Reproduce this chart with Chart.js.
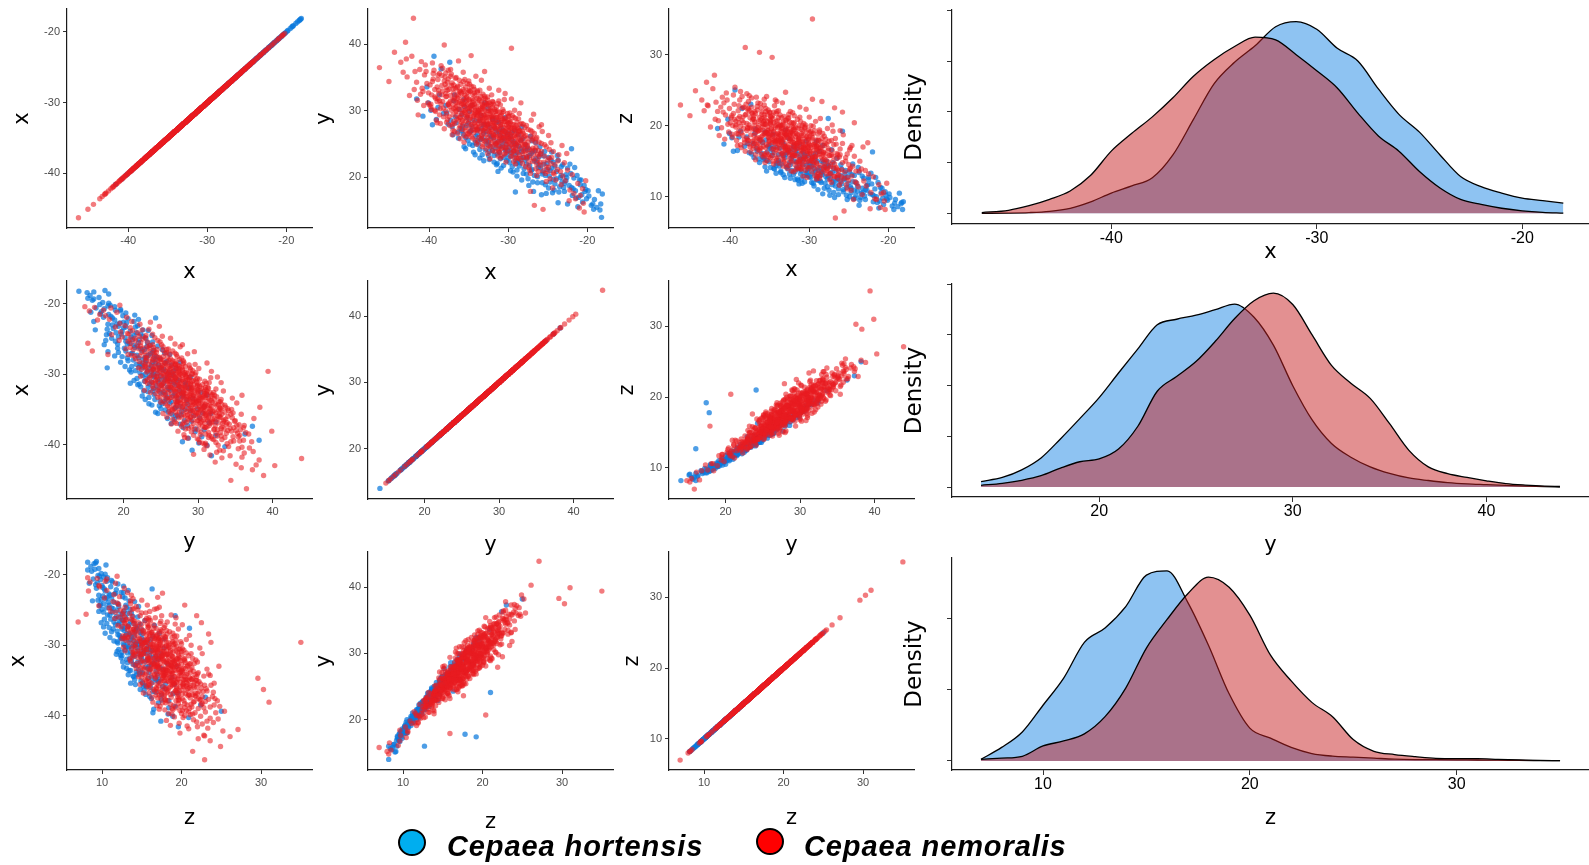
<!DOCTYPE html>
<html>
<head>
<meta charset="utf-8">
<script src="https://cdn.jsdelivr.net/npm/chart.js@4.4.1/dist/chart.umd.min.js"></script>
<style>
  html, body { margin: 0; padding: 0; background: #fff; width: 1589px; height: 865px; overflow: hidden; }
  canvas { position: absolute; }
  .dot { position: absolute; box-sizing: border-box; width: 28px; height: 27px; border: 2.5px solid #000; border-radius: 50%; }
  .lbl { position: absolute; font-family: "Liberation Sans", Arial, sans-serif; font-weight: bold; font-style: italic;
         font-size: 29px; line-height: 29px; letter-spacing: 0.9px; color: #000; white-space: nowrap; }
</style>
</head>
<body>
<script>
// Shell measurements, one row per snail: [x, y, z]
const hortensis = [
  [-41.6,31.8,19.6],[-40.8,29.2,17.4],[-40.3,33.6,20.9],
  [-39.4,38.2,25.0],[-39.8,30.1,18.3],[-39.1,28.7,16.5],[-38.7,32.4,19.2],[-38.5,36.3,22.4],[-38.2,29.6,17.1],[-39.6,27.9,16.4],
  [-37.9,30.8,18.4],[-37.4,37.3,23.0],[-37.6,28.0,16.2],[-37.1,27.6,17.5],[-36.9,31.5,18.9],[-36.7,29.1,16.8],[-36.4,26.8,15.3],[-36.2,30.2,17.9],[-37.3,28.6,16.0],[-36.0,27.3,16.1],
  [-35.9,29.4,17.6],[-35.7,26.5,15.4],[-35.5,30.6,18.0],[-35.3,27.8,16.3],[-35.1,25.6,14.9],[-34.9,29.9,17.2],[-34.7,27.0,15.8],[-34.5,24.8,14.0],[-34.3,28.6,17.0],
  [-34.1,26.2,14.7],[-35.8,27.7,15.2],[-35.4,24.3,13.6],[-35.0,28.3,16.9],[-34.6,30.8,18.8],[-34.2,25.2,14.4],[-35.6,31.7,19.1],[-34.8,26.9,16.7],[-34.4,23.8,13.9],
  [-33.9,27.2,15.9],[-33.8,24.9,14.3],[-33.7,28.5,16.8],[-33.5,25.7,14.6],[-33.4,29.3,17.7],[-33.3,23.4,13.1],[-33.1,26.6,15.5],[-33.0,28.0,15.9],[-32.9,24.1,14.2],
  [-32.8,26.9,16.2],[-32.6,30.4,18.2],[-32.5,25.3,14.8],[-32.4,22.7,12.6],[-32.3,27.5,16.6],[-32.2,24.6,13.7],[-32.1,26.1,15.7],[-33.6,22.9,13.4],[-33.2,27.9,17.3],
  [-32.7,25.0,13.9],[-32.0,28.7,17.1],[-33.9,25.5,15.1],[-32.4,23.9,14.5],[-33.0,31.2,19.4],
  [-31.9,25.9,15.0],[-31.8,23.3,13.5],[-31.7,27.4,16.4],[-31.6,24.4,14.1],[-31.5,26.8,16.0],[-31.4,22.1,12.3],[-31.3,25.4,14.7],[-31.2,28.3,17.4],[-31.1,23.7,13.2],
  [-31.0,26.3,15.3],[-30.9,21.4,11.9],[-30.8,24.8,14.5],[-30.7,27.1,16.3],[-30.6,23.0,12.9],[-30.5,25.6,15.6],[-30.4,29.0,17.8],[-30.3,24.2,13.8],[-30.2,22.5,13.0],
  [-30.1,26.5,14.9],[-30.0,24.0,14.2],[-31.9,28.9,17.0],[-31.5,21.9,12.5],[-31.0,24.6,13.6],[-30.6,26.0,15.9],[-30.2,23.5,13.4],[-31.3,20.9,11.8],
  [-29.9,24.5,14.0],[-29.8,22.2,12.7],[-29.7,26.1,15.2],[-29.6,23.2,13.3],[-29.5,25.3,14.6],[-29.4,20.8,11.5],[-29.3,24.0,13.9],[-29.2,27.0,16.1],[-29.1,22.6,12.4],
  [-29.0,25.0,15.0],[-28.9,20.2,11.0],[-28.8,23.7,13.7],[-28.7,26.4,16.4],[-28.6,21.7,12.2],[-28.5,24.3,13.5],[-28.4,22.9,13.1],[-28.3,19.6,10.4],[-28.2,25.8,14.8],
  [-28.1,23.0,14.1],[-28.0,21.3,11.9],[-29.7,21.0,12.0],[-29.2,24.8,13.6],[-28.7,22.4,12.9],[-28.3,27.6,17.2],[-29.1,17.8,17.8],
  [-27.9,22.6,12.8],[-27.7,20.5,11.4],[-27.5,24.4,14.3],[-27.3,21.8,12.6],[-27.1,23.6,13.4],[-26.9,19.3,10.6],[-26.7,22.5,12.2],[-26.5,25.2,15.4],[-26.3,20.1,11.1],
  [-26.1,23.1,13.0],[-27.8,24.9,15.0],[-27.4,18.8,10.2],[-27.0,21.2,12.1],[-26.6,24.0,13.6],[-26.2,21.5,11.7],[-27.6,22.9,14.4],[-26.8,17.9,9.9],[-26.4,22.3,12.5],
  [-27.2,26.2,16.6],[-27.6,24.1,21.0],
  [-25.9,21.4,11.8],[-25.7,19.2,10.7],[-25.5,23.2,13.2],[-25.3,20.3,11.3],[-25.1,22.1,12.8],[-24.9,18.4,10.0],[-24.7,21.0,11.2],[-24.5,23.8,14.6],[-24.3,19.7,10.9],
  [-24.1,21.7,12.0],[-25.2,17.6,9.6],[-24.6,22.6,13.1],[-24.2,18.1,9.8],[-25.6,20.8,12.4],[-25.8,17.4,19.2],
  [-23.9,19.8,10.8],[-23.6,17.8,9.5],[-23.3,21.6,12.9],[-23.0,18.5,10.1],[-22.7,20.4,11.6],[-22.0,24.3,16.3],[-23.7,16.2,8.8],[-22.9,19.1,11.0],[-22.2,22.0,13.3],
  [-23.4,20.0,10.5],[-22.5,16.0,12.7],
  [-21.8,18.3,10.1],[-21.4,16.9,9.2],[-21.0,19.6,11.3],[-20.7,17.4,9.8],[-20.4,18.8,10.7],[-21.2,15.6,8.4],[-20.2,18.2,9.7],
  [-19.9,18.0,10.4],[-19.3,16.0,8.2],[-19.2,15.2,9.1],[-18.6,18.0,10.5],[-18.3,16.0,9.2],[-18.2,14.0,8.2],[-18.4,15.1,9.0],[-18.1,17.5,9.3],
  [-35.4,26.0,15.1],[-34.9,25.0,14.1],[-34.6,27.6,16.2],[-34.2,23.4,13.3],[-33.9,26.4,14.9],[-33.6,24.2,13.6],[-33.3,25.9,15.8],[-33.1,22.5,12.7],[-32.8,25.6,14.2],[-32.5,23.3,13.2],
  [-32.3,26.3,15.4],[-32.0,24.0,13.1],[-31.8,22.3,12.4],[-31.6,25.1,14.9],[-31.4,23.5,13.9],[-31.2,26.9,15.5],[-31.0,22.8,12.5],[-30.8,25.5,15.2],[-30.6,21.8,12.1],[-30.4,24.1,13.3],
  [-30.2,26.7,15.8],[-30.0,22.9,12.8],[-29.9,25.9,14.6],[-29.7,23.8,14.3],[-29.5,21.6,11.9],[-29.3,25.4,15.2],[-29.1,23.4,12.9],[-28.9,21.1,12.3],[-28.7,24.7,14.1],[-28.5,22.2,12.0],
  [-28.3,23.9,13.4],[-28.1,20.6,11.2],[-27.9,24.3,14.2],[-27.7,22.0,12.5],[-27.5,19.8,10.9],[-27.3,23.3,13.3],[-27.1,21.0,11.7],[-26.9,23.9,14.0],[-26.7,20.3,11.5],[-26.5,22.8,12.7],
  [-26.3,19.2,10.3],[-26.1,21.9,12.3],[-25.9,23.6,13.9],[-25.7,20.5,11.0],[-25.5,22.0,12.6],[-25.3,18.9,10.2],[-25.1,21.2,11.9],[-24.9,23.0,13.5],[-24.7,19.3,10.6],[-24.5,21.4,12.1],
  [-24.3,22.3,13.0],[-24.1,19.0,10.2],[-23.9,20.9,11.5],[-23.7,22.6,13.4],[-23.5,18.6,9.9],[-23.3,20.3,11.2],[-23.1,21.9,12.6],[-22.9,17.9,9.6],[-22.7,19.5,10.9],[-22.5,21.4,12.4],
  [-22.3,18.8,10.4],[-22.1,20.6,11.8],[-21.9,17.3,9.3],[-21.7,19.9,11.1],[-21.5,18.0,10.0],[-21.3,20.3,12.0],[-21.1,17.0,9.4],[-20.9,18.9,10.6],[-20.6,16.3,8.9],[-20.3,17.9,10.2],
  [-20.1,16.8,9.5],[-19.8,17.2,9.9],[-19.5,15.8,8.7],[-19.1,16.7,9.6],[-18.8,15.5,8.6],
  [-36.6,28.2,16.4],[-36.3,25.9,14.8],[-35.9,27.0,15.6],[-35.6,24.6,14.2],[-35.2,29.0,17.1],[-37.8,29.7,17.5],[-37.0,26.4,15.5],[-38.9,30.5,18.4],[-40.1,31.2,18.9],[-36.8,32.4,19.5],
  [-33.4,27.3,16.0],[-32.6,27.9,16.5],[-31.5,28.3,16.8],[-30.9,27.4,16.1],[-30.3,25.0,14.4],[-29.6,26.7,15.7],[-29.0,22.1,12.6],[-28.4,25.6,15.0],[-27.6,23.1,12.9],[-27.0,25.5,14.8],
  [-26.0,24.6,14.5],[-25.4,23.9,13.7],[-24.8,20.2,11.4],[-24.4,17.7,9.7],[-23.8,23.3,14.1],[-23.2,19.3,10.6],[-22.6,20.0,11.7],[-22.0,18.5,10.3],[-21.6,21.5,12.7],[-20.8,19.6,11.2]
];

const nemoralis = [
  [-46.3,36.5,22.9],[-45.1,34.4,21.4],[-44.4,38.8,24.9],
  [-43.6,37.3,23.6],[-43.0,40.3,26.1],[-42.8,35.1,22.8],[-42.0,43.9,27.1],[-42.5,32.3,19.8],[-42.9,37.8,22.9],
  [-41.8,35.9,23.3],[-41.5,31.6,20.7],[-41.2,36.2,22.6],[-40.9,33.4,21.9],[-40.7,30.8,18.1],[-40.5,36.9,24.6],[-40.3,34.1,20.2],
  [-41.9,33.2,20.9],[-40.1,32.7,22.4],[-41.4,29.4,18.6],[-40.6,35.4,21.5],[-40.2,31.2,19.1],[-41.0,37.4,24.0],[-40.8,32.9,23.2],
  [-39.9,33.9,21.1],[-39.7,30.2,18.4],[-39.5,35.6,23.0],[-39.3,32.1,20.6],[-39.1,28.6,17.2],[-38.9,34.7,22.8],[-38.7,31.5,19.9],[-38.5,36.8,24.1],
  [-38.3,33.0,20.4],[-38.1,39.9,31.0],[-39.8,31.0,18.8],[-39.6,34.4,21.7],[-39.2,29.9,18.9],[-38.8,32.6,21.3],[-38.4,35.3,22.5],[-38.2,30.4,17.6],
  [-39.0,33.6,22.1],[-38.6,28.1,16.9],[-39.4,36.1,25.4],[-38.9,31.8,19.3],[-38.0,34.0,21.6],[-39.7,32.4,20.0],
  [-37.9,32.6,20.3],[-37.8,29.5,18.0],[-37.6,34.8,22.1],[-37.5,31.2,19.7],[-37.3,36.2,23.9],[-37.2,30.1,17.8],[-37.0,33.3,21.4],[-36.9,28.4,17.5],
  [-36.8,32.0,19.0],[-36.6,35.0,22.7],[-36.5,30.7,19.2],[-36.4,33.7,20.6],[-36.3,37.5,30.3],[-36.2,31.4,20.8],[-36.1,29.0,16.8],[-37.7,33.1,22.4],
  [-37.4,27.8,16.3],[-37.1,34.2,21.0],[-36.7,30.5,18.2],[-36.0,32.8,21.9],[-37.9,35.7,24.5],[-37.0,31.6,18.6],[-36.5,28.8,18.3],[-36.9,33.9,22.0],
  [-37.6,30.9,20.1],[-36.2,34.6,23.1],[-37.3,32.3,19.5],[-36.8,26.9,15.9],[-36.4,31.9,20.0],[-37.8,33.5,19.6],
  [-35.9,31.1,19.4],[-35.8,28.6,17.1],[-35.7,33.2,21.5],[-35.6,30.0,18.8],[-35.5,32.4,20.2],[-35.4,27.5,16.2],[-35.3,30.8,19.9],[-35.2,34.1,22.2],
  [-35.1,29.3,17.4],[-35.0,31.7,20.9],[-34.9,26.8,15.5],[-34.8,32.9,21.2],[-34.7,38.3,29.6],[-34.6,29.7,18.6],[-34.5,31.3,19.1],[-34.4,33.6,22.8],
  [-34.3,28.2,17.8],[-34.2,30.5,18.0],[-34.1,35.2,23.4],[-34.0,29.1,18.9],[-35.9,29.6,19.8],[-35.7,35.8,23.7],[-35.5,28.9,16.9],[-35.3,32.0,21.6],
  [-35.1,30.3,18.3],[-34.9,33.0,20.5],[-34.7,27.9,17.6],[-34.5,30.9,20.4],[-34.3,32.7,19.8],[-34.1,29.4,17.9],[-35.8,31.5,20.6],[-35.4,30.1,19.0],
  [-35.0,34.5,21.8],[-34.6,31.8,21.0],[-34.2,27.1,16.6],[-35.6,26.3,15.8],[-35.2,32.2,19.3],[-34.8,30.6,19.5],[-34.4,29.2,18.1],[-34.0,31.9,20.7],
  [-33.9,29.8,18.5],[-33.8,27.4,16.4],[-33.7,31.6,20.1],[-33.6,28.5,17.7],[-33.5,30.4,19.6],[-33.4,26.2,15.3],[-33.3,29.0,18.0],[-33.2,32.5,21.3],
  [-33.1,28.0,17.1],[-33.0,30.9,18.8],[-32.9,25.4,14.6],[-32.8,29.5,19.2],[-32.7,31.1,20.0],[-32.6,27.7,17.3],[-32.5,30.0,17.9],[-32.4,33.4,22.0],
  [-32.3,28.3,18.4],[-32.2,29.9,19.9],[-32.1,26.6,15.7],[-32.0,31.4,19.4],[-33.9,32.8,21.1],[-33.7,28.8,18.7],[-33.5,26.9,16.0],[-33.3,30.7,20.5],
  [-33.1,29.3,17.5],[-32.9,31.9,20.8],[-32.7,28.1,16.6],[-32.5,27.0,16.9],[-32.3,30.3,19.0],[-32.1,29.1,18.2],[-33.8,30.1,17.8],[-33.4,34.6,23.2],
  [-33.0,27.3,17.0],[-32.6,32.1,21.6],[-32.2,25.9,15.1],[-33.6,29.6,19.3],[-33.2,28.6,18.6],[-32.8,26.4,16.2],[-32.4,31.2,18.9],[-32.0,28.9,17.2],
  [-33.0,35.9,24.7],[-32.5,24.8,15.9],
  [-31.9,28.3,17.6],[-31.8,26.0,16.1],[-31.7,29.9,19.7],[-31.6,27.1,16.8],[-31.5,30.6,18.7],[-31.4,25.2,15.0],[-31.3,28.7,18.3],[-31.2,31.5,21.2],
  [-31.1,26.7,16.0],[-31.0,29.2,18.9],[-30.9,24.3,14.2],[-30.8,27.9,17.4],[-30.7,30.2,20.3],[-30.6,26.3,15.6],[-30.5,28.4,17.0],[-30.4,32.6,22.3],
  [-30.3,27.4,17.9],[-30.2,25.6,16.4],[-30.1,29.6,18.1],[-30.0,27.0,16.5],[-31.9,31.0,20.4],[-31.6,24.9,14.8],[-31.3,27.6,18.0],[-31.0,30.9,19.5],
  [-30.7,25.8,15.3],[-30.4,28.9,19.1],[-30.1,26.5,16.9],[-31.7,28.1,16.7],[-31.2,33.1,22.6],[-30.8,28.6,18.6],[-30.3,24.5,14.9],[-31.5,26.1,17.2],
  [-30.9,29.4,20.0],[-30.5,31.7,19.8],[-30.0,28.1,18.4],[-29.6,39.4,35.0],[-31.1,23.8,13.9],
  [-29.9,26.8,16.3],[-29.8,24.6,15.1],[-29.7,28.4,18.8],[-29.6,25.7,15.4],[-29.5,29.3,19.9],[-29.4,23.9,14.0],[-29.3,27.2,17.1],[-29.2,30.1,20.6],
  [-29.1,25.1,14.7],[-29.0,27.8,16.6],[-28.9,22.8,13.4],[-28.8,26.4,16.8],[-28.7,28.8,19.4],[-28.6,24.7,14.4],[-28.5,27.0,17.7],[-28.4,31.2,23.4],
  [-28.3,25.9,15.9],[-28.2,23.6,13.8],[-28.1,28.0,18.5],[-28.0,25.3,16.0],[-29.8,29.7,19.2],[-29.3,24.0,15.6],[-28.9,27.5,17.3],[-28.4,25.5,17.0],
  [-29.6,31.8,23.7],[-28.7,22.9,12.6],[-29.1,28.9,18.0],[-28.2,26.9,16.2],[-29.5,26.2,14.9],[-28.6,29.6,21.0],
  [-27.9,25.0,15.2],[-27.7,23.1,13.6],[-27.5,27.2,17.8],[-27.3,24.2,14.5],[-27.1,28.6,20.1],[-26.9,22.4,12.9],[-26.7,15.8,7.0],[-26.5,25.8,16.1],
  [-26.3,23.4,13.1],[-26.1,27.6,19.3],[-27.8,26.3,17.4],[-27.4,21.5,12.4],[-27.0,25.6,15.7],[-26.6,24.1,14.1],[-26.2,20.9,11.6],[-27.6,24.6,16.8],
  [-26.8,29.5,22.5],[-26.4,22.0,13.0],[-27.2,17.9,15.9],
  [-25.9,23.5,13.8],[-25.6,15.2,8.0],[-25.4,24.9,15.5],[-25.2,21.6,12.7],[-24.9,26.3,16.6],[-24.7,19.8,10.9],[-24.5,23.0,14.3],[-24.2,20.5,12.1],
  [-25.8,27.9,21.9],[-24.4,18.4,9.6],[-24.3,20.7,20.4],
  [-23.8,21.2,11.4],[-23.3,18.9,10.3],[-22.6,23.6,17.6],[-22.3,16.5,8.3],
  [-21.7,17.6,9.7],[-21.0,15.4,8.5],[-20.4,14.8,8.2],[-20.6,18.3,10.6],
  [-38.3,31.4,19.6],[-38.0,35.1,23.0],[-37.9,30.0,19.3],[-38.4,33.8,21.2],[-38.2,29.1,18.0],[-37.8,32.2,22.3],[-38.1,34.5,21.5],[-37.7,28.7,17.9],[-38.5,31.0,20.7],[-37.6,36.1,24.2],
  [-37.4,30.6,18.7],[-37.2,33.8,20.8],[-37.0,29.4,19.6],[-36.9,32.7,20.1],[-37.3,35.2,22.6],[-37.1,27.9,17.2],[-36.8,31.8,21.7],[-36.6,29.9,17.4],[-37.5,33.2,21.1],[-36.7,34.9,24.0],
  [-37.0,30.9,20.9],[-36.5,32.4,19.7],
  [-36.3,30.3,18.1],[-36.1,33.0,22.5],[-35.9,28.3,18.6],[-36.4,31.2,19.3],[-36.0,34.0,21.0],[-35.8,29.6,20.2],[-36.2,27.4,16.9],[-35.7,31.9,18.9],[-36.5,33.5,23.2],[-35.6,30.7,20.8],
  [-36.1,29.0,18.0],[-35.9,32.6,20.3],[-36.3,28.6,16.5],[-35.7,34.4,22.9],
  [-35.5,29.8,19.1],[-35.3,31.6,19.4],[-35.1,28.1,17.8],[-35.0,33.1,21.9],[-34.9,30.4,20.7],[-35.4,27.0,17.3],[-35.2,31.0,18.4],[-34.8,29.0,19.6],[-35.6,32.9,20.2],[-35.0,30.0,18.6],
  [-34.7,33.7,21.4],[-35.3,28.5,18.9],[-34.9,31.5,21.3],[-35.1,26.6,15.6],[-34.6,30.2,17.9],[-35.5,34.7,22.0],
  [-34.5,28.8,19.2],[-34.3,31.0,20.0],[-34.1,27.6,16.9],[-34.0,30.6,19.7],[-33.9,29.3,20.1],[-34.4,26.7,16.2],[-34.2,32.3,20.6],[-33.8,28.1,17.3],[-34.6,30.9,18.5],[-34.0,27.2,17.6],
  [-33.7,31.8,21.5],[-34.3,29.5,17.5],[-33.9,33.0,22.1],[-34.1,28.4,18.7],[-33.6,30.1,18.2],[-34.5,32.5,21.9],[-34.2,25.6,15.4],[-33.8,29.9,19.9],
  [-33.5,28.7,18.0],[-33.3,30.3,20.2],[-33.1,27.0,16.8],[-33.0,29.4,19.4],[-32.9,31.2,19.6],[-33.4,25.8,16.1],[-33.2,30.6,18.3],[-32.8,28.4,17.0],[-33.6,27.6,18.1],[-33.0,32.2,20.7],
  [-32.7,29.1,19.5],[-33.3,26.4,15.8],[-32.9,30.0,18.7],[-33.1,28.2,18.9],[-32.6,31.6,21.1],[-33.5,29.7,17.6],[-33.2,24.9,15.2],[-32.8,27.8,18.4],[-33.4,31.4,20.0],[-33.0,28.9,16.9],
  [-32.5,28.0,18.6],[-32.3,29.6,17.8],[-32.1,27.2,17.7],[-32.0,30.5,20.3],[-31.9,26.4,16.6],[-32.4,29.0,19.1],[-32.2,31.0,19.2],[-31.8,27.6,17.1],[-32.6,26.0,16.4],[-32.0,28.7,19.7],
  [-31.7,30.2,18.4],[-32.3,24.6,14.9],[-31.9,29.2,17.4],[-32.1,32.4,21.8],[-31.6,28.2,18.9],[-32.5,30.8,20.5],[-32.2,26.9,15.9],[-31.8,25.4,15.8],[-32.4,27.5,16.3],[-31.9,31.3,21.4],
  [-31.5,27.3,17.5],[-31.3,29.0,18.2],[-31.1,25.9,16.7],[-31.0,28.0,16.5],[-30.9,26.9,17.8],[-31.4,30.0,19.6],[-31.2,24.7,15.2],[-30.8,29.7,19.3],[-31.6,26.5,15.7],[-31.0,27.7,18.6],
  [-30.7,25.1,14.9],[-31.3,31.1,20.0],[-30.9,28.3,16.9],[-31.1,26.2,17.0],[-30.6,27.5,18.1],[-31.5,29.4,17.6],[-31.2,23.9,14.6],[-30.8,26.6,16.3],
  [-30.5,26.9,16.8],[-30.3,28.4,18.5],[-30.1,25.4,15.6],[-30.0,27.6,17.4],[-29.9,29.2,19.0],[-30.4,24.4,15.3],[-30.2,27.9,16.1],[-29.8,26.0,16.9],[-30.6,29.9,19.7],[-30.0,25.9,15.0],
  [-29.7,27.4,18.1],[-30.3,23.7,14.2],[-29.9,28.6,17.2],[-30.1,26.2,17.6],[-29.6,24.9,15.5],[-30.5,28.8,20.1],
  [-29.5,25.6,16.1],[-29.3,27.9,17.6],[-29.1,24.4,14.8],[-29.0,26.6,17.1],[-28.9,28.3,18.8],[-29.4,23.2,14.5],[-29.2,26.3,15.4],[-28.8,25.2,16.4],[-29.6,27.5,18.3],[-29.0,24.8,15.9],
  [-28.7,26.9,16.0],[-29.3,29.0,19.3],[-28.9,23.8,14.1],[-29.1,27.1,16.7],
  [-28.5,25.7,15.6],[-28.3,24.3,15.2],[-28.1,26.6,17.2],[-28.0,23.9,14.7],[-27.9,27.5,18.1],[-28.4,22.6,13.5],[-28.2,25.0,16.3],[-27.8,24.0,13.9],[-28.6,27.0,16.9],[-28.0,26.1,17.5],
  [-27.7,22.9,14.0],[-28.3,28.1,18.9],
  [-27.5,25.3,15.8],[-27.3,23.0,14.2],[-27.1,26.2,16.5],[-27.0,24.1,15.0],[-26.9,25.8,17.3],[-27.4,22.2,13.2],[-27.2,27.1,17.9],[-26.8,23.5,14.6],[-27.6,24.8,14.9],[-26.7,26.6,18.2],
  [-26.5,24.5,15.4],[-26.3,22.6,13.7],[-26.1,25.3,16.7],[-25.9,21.8,12.8],[-26.4,26.0,15.9],[-25.8,23.9,14.8],[-25.5,22.3,13.5],[-25.2,24.6,16.0],[-25.0,20.9,12.3],[-24.8,22.9,14.0],
  [-24.6,25.2,17.2],[-24.1,21.9,13.6],[-23.6,23.4,15.0],[-23.1,20.2,12.2],[-22.9,22.2,13.7],
  [-43.3,35.8,22.1],[-42.2,38.2,25.2],[-41.6,34.3,22.0],[-41.1,32.5,19.7],[-40.4,35.9,23.6],[-40.0,30.9,20.4],[-39.6,37.2,24.3],[-39.3,33.2,19.8],[-39.0,31.4,21.0],[-38.7,35.6,24.8],
  [-39.8,30.6,21.4],[-39.5,34.8,20.9],[-39.2,31.9,17.9],[-39.0,28.2,18.8],[-38.8,33.1,23.6],[-38.6,30.3,19.0],[-38.3,36.4,22.6],[-38.1,27.3,16.4],[-37.9,32.1,18.2],[-37.7,34.3,23.4],
  [-37.5,29.1,17.0],[-37.3,31.5,21.8],[-37.1,26.4,16.8],[-36.9,30.3,20.5],[-36.7,33.4,19.4],[-37.8,28.3,19.7],[-38.4,32.4,18.6],[-39.3,30.1,20.1],[-37.2,35.5,21.7],[-36.8,28.1,15.2],
  [-37.6,31.0,17.4],[-38.7,29.4,17.3],[-36.6,31.3,22.2],[-37.0,27.1,17.9],[-38.9,35.4,20.4],
  [-36.5,29.3,16.6],[-36.3,32.2,21.2],[-36.1,27.8,18.4],[-35.9,30.9,17.7],[-35.7,28.0,16.0],[-35.5,31.4,22.4],[-35.3,26.1,15.1],[-35.1,32.8,19.0],[-34.9,28.7,20.2],[-34.7,30.8,16.7],
  [-34.5,25.9,16.8],[-34.3,33.2,23.6],[-34.1,27.7,15.1],[-33.9,31.2,18.1],[-33.7,26.0,17.0],[-33.5,29.3,21.1],[-33.3,24.6,14.3],[-33.1,31.8,19.0],[-32.9,27.4,18.7],[-36.4,26.6,17.6],
  [-36.0,30.2,21.6],[-35.6,25.3,14.8],[-35.2,29.4,15.9],[-34.8,27.4,18.8],[-34.4,31.6,17.7],[-34.0,25.0,15.6],[-33.6,33.1,20.0],[-33.2,27.1,14.9],[-36.2,32.9,19.4],[-35.8,27.2,15.6],
  [-35.4,33.6,24.1],[-35.0,26.5,17.9],[-34.6,28.0,15.0],[-34.2,30.1,21.7],[-33.8,25.3,14.7],[-33.4,28.0,19.7],[-33.0,30.2,16.6],[-36.6,30.0,17.0],[-35.3,29.2,20.6],[-34.5,27.2,14.6],
  [-33.9,27.0,18.8],[-33.5,32.2,19.1],[-33.1,25.6,16.5],[-35.7,31.0,21.1],[-34.9,34.0,20.3],[-34.1,29.8,22.0],[-33.3,31.0,17.1],[-32.8,24.3,14.0],[-36.1,25.8,15.9],[-34.7,26.1,15.8],
  [-32.7,28.9,21.0],[-32.5,25.5,15.3],[-32.3,30.0,16.8],[-32.1,25.2,16.0],[-31.9,27.8,19.5],[-31.7,23.9,13.8],[-31.5,29.0,20.9],[-31.3,24.3,14.1],[-31.1,27.2,15.3],[-30.9,25.6,17.6],
  [-30.7,28.8,17.0],[-30.5,23.5,13.7],[-30.3,26.2,18.4],[-30.1,24.0,14.0],[-29.9,27.5,16.0],[-29.7,23.1,13.5],[-29.5,26.8,18.9],[-29.3,22.4,13.0],[-29.1,25.9,17.1],[-28.9,24.1,13.2],
  [-32.6,23.6,14.4],[-32.2,28.1,20.4],[-31.8,26.3,14.5],[-31.4,28.6,18.1],[-31.0,22.9,13.9],[-30.6,27.0,15.6],[-30.2,25.0,17.1],[-29.8,28.2,20.0],[-29.4,24.5,16.5],[-29.0,23.0,12.8],
  [-32.4,26.8,18.1],[-32.0,24.0,13.5],[-31.6,29.9,17.5],[-31.2,25.4,17.7],[-30.8,23.2,12.9],[-30.4,26.9,16.4],[-30.0,29.2,21.2],[-29.6,23.7,15.4],[-29.2,27.4,15.7],[-28.8,25.4,17.9],
  [-32.3,22.8,13.6],[-31.9,24.7,15.8],[-31.5,25.1,14.0],[-31.1,29.8,20.6],[-30.7,24.5,16.7],[-30.3,22.3,12.7],[-29.9,25.2,14.2],[-29.5,27.9,17.3],[-29.1,22.0,12.5],[-28.7,27.3,19.1],
  [-32.7,30.9,18.3],[-31.7,27.5,18.9],[-30.9,26.0,14.6],[-30.1,28.3,19.4],[-29.3,25.1,17.4],[-32.1,29.3,18.9],[-31.3,23.2,14.9],[-30.5,25.9,17.3],[-29.7,26.5,15.0],[-28.9,26.1,18.0],
  [-28.6,23.4,13.0],[-28.4,26.5,18.2],[-28.2,22.1,14.1],[-28.0,24.6,14.3],[-27.8,21.6,13.2],[-27.6,25.9,16.5],[-27.4,23.6,15.8],[-27.2,20.6,12.0],[-27.0,26.9,19.2],[-26.8,22.8,12.8],
  [-26.6,25.3,17.4],[-26.4,20.3,12.6],[-26.2,24.0,15.6],[-26.0,22.3,12.1],[-25.8,25.1,17.5],[-25.6,21.0,12.6],[-25.4,23.2,15.0],[-25.2,19.4,11.1],[-25.0,22.6,14.5],[-24.8,24.2,16.9],
  [-28.5,28.0,16.4],[-28.1,23.0,15.3],[-27.7,27.8,19.6],[-27.3,21.1,13.3],[-26.9,24.4,14.0],[-26.5,21.3,13.9],[-26.1,23.2,15.9],[-25.7,26.9,18.7],[-25.3,20.6,11.7],[-24.9,21.5,13.8],
  [-24.6,22.1,12.9],[-24.3,23.9,15.7],[-24.0,19.6,11.9],[-23.7,22.5,13.6],[-23.4,20.9,13.9],[-23.2,24.8,17.0],[-22.8,19.5,11.5],[-22.5,21.1,13.2],[-22.2,18.1,10.6],[-21.9,20.4,12.8],
  [-21.5,16.8,9.6],[-21.2,19.1,11.7],[-20.9,17.3,10.4],[-20.5,16.1,9.4],[-20.2,19.5,11.9]
];

// Variables, their axis limits and labelled ticks
const variableNames = ['x', 'y', 'z'];
const axisRanges = [[-47.75, -16.75], [12.4, 45.3], [5.6, 36.4]];
const axisTicks = [[-40, -30, -20], [20, 30, 40], [10, 20, 30]];

// Kernel density estimates, evaluated on a grid for each variable
const densityGridX = [-46.3,-45,-44,-43,-42,-41,-40,-39,-38,-37,-36,-35,-34,-33,-32,-31,-30,-29,-28,-27,-26,-25,-24,-23,-22,-21,-20,-19,-18];
const hortensisDensityX = [0,0.0001,0.0003,0.0008,0.0020,0.0045,0.0080,0.0108,0.0140,0.0230,0.0370,0.0510,0.0595,0.0660,0.0735,0.0755,0.0725,0.0650,0.0600,0.0490,0.0390,0.0320,0.0230,0.0145,0.0105,0.0080,0.0060,0.0050,0.0040];
const nemoralisDensityX = [0.0003,0.0012,0.0030,0.0055,0.0088,0.0150,0.0245,0.0315,0.0380,0.0455,0.0540,0.0605,0.0657,0.0694,0.0683,0.0625,0.0562,0.0494,0.0395,0.0305,0.0245,0.0165,0.0100,0.0055,0.0035,0.0020,0.0010,0.0004,0.0001];

const densityGridY = [13.9,15,16,17,18,19,20,21,22,23,24,25,26,27,28,29,30,31,32,33,34,35,36,37,38,39,40,41,42,43,43.8];
const hortensisDensityY = [0.0022,0.0038,0.0068,0.0115,0.0190,0.0270,0.0353,0.0450,0.0545,0.0640,0.0662,0.0678,0.0700,0.0722,0.0670,0.0560,0.0400,0.0265,0.0172,0.0118,0.0080,0.0054,0.0036,0.0026,0.0018,0.0013,0.0010,0.0007,0.0004,0.0002,0.0000];
const nemoralisDensityY = [0.0007,0.0015,0.0027,0.0045,0.0075,0.0100,0.0111,0.0150,0.0240,0.0378,0.0436,0.0495,0.0575,0.0665,0.0735,0.0765,0.0720,0.0600,0.0480,0.0410,0.0350,0.0250,0.0145,0.0080,0.0053,0.0038,0.0025,0.0014,0.0008,0.0004,0.0003];

const densityGridZ = [7,8,9,10,11,12,13,14,15,16,17,18,19,20,21,22,23,24,25,26,27,28,29,30,31,32,33,34,35];
const hortensisDensityZ = [0.0012,0.0095,0.0203,0.0390,0.0580,0.0830,0.0930,0.1080,0.1300,0.1330,0.1110,0.0810,0.0470,0.0230,0.0160,0.0095,0.0052,0.0034,0.0027,0.0020,0.0013,0.0010,0.0009,0.0008,0.0007,0.0006,0.0004,0.0003,0.0002];
const nemoralisDensityZ = [0.0012,0.0020,0.0033,0.0105,0.0140,0.0190,0.0310,0.0510,0.0790,0.0990,0.1170,0.1286,0.1215,0.1020,0.0740,0.0560,0.0410,0.0310,0.0150,0.0068,0.0045,0.0030,0.0018,0.0016,0.0016,0.0012,0.0008,0.0004,0.0002];

const densityLimits = [[-0.0042, 0.0801], [-0.0039, 0.0801], [-0.0063, 0.142]];
const densityTicks = [[0, 0.02, 0.04, 0.06, 0.08], [0, 0.02, 0.04, 0.06, 0.08], [0, 0.05, 0.10]];

const speciesNames = ['Cepaea hortensis', 'Cepaea nemoralis'];

// ---------------------------------------------------------------------------
const densityData = [
  [densityGridX, hortensisDensityX, nemoralisDensityX],
  [densityGridY, hortensisDensityY, nemoralisDensityY],
  [densityGridZ, hortensisDensityZ, nemoralisDensityZ]
];

const BLUE_PT = 'rgba(10,120,220,0.72)';
const RED_PT = 'rgba(232,28,32,0.58)';
const BLUE_FILL = 'rgba(30,136,229,0.5)';
const RED_FILL = 'rgba(199,33,35,0.5)';

// Panel geometry (pixels)
const COLS = [
  { canvasLeft: 0,   plotLeft: 67,  plotRight: 312,  titleX: [23, 23, 19] },
  { canvasLeft: 300, plotLeft: 368, plotRight: 613,  titleX: [325, 325, 325] },
  { canvasLeft: 605, plotLeft: 669, plotRight: 914,  titleX: [627, 628, 633] },
  { canvasLeft: 890, plotLeft: 952, plotRight: 1589, titleX: [915, 915, 915] }
];
const ROWS = [
  { top: 9,   bottom: 228, dTop: 10,  dBottom: 224, titleY: [272, 273, 270, 252] },
  { top: 281, bottom: 499, dTop: 284, dBottom: 497, titleY: [542, 545, 545, 545] },
  { top: 552, bottom: 770, dTop: 558, dBottom: 770, titleY: [818, 822, 818, 818] }
];

Chart.defaults.font.family = '"Liberation Sans", Arial, sans-serif';

function makeCanvas(left, top, w, h) {
  const c = document.createElement('canvas');
  c.width = w; c.height = h;
  c.style.left = left + 'px'; c.style.top = top + 'px';
  c.style.width = w + 'px'; c.style.height = h + 'px';
  document.body.appendChild(c);
  return c;
}

function buildPanel(r, c) {
  const col = COLS[c], row = ROWS[r];
  const dens = c === 3;
  const plotTop = dens ? row.dTop : row.top;
  const plotBottom = dens ? row.dBottom : row.bottom;
  const padTop = 10, padRight = dens ? 0 : 5;
  const xTitleSize = 21, xTitleLH = xTitleSize * 1.2;
  const yTitleSize = dens ? 23 : 21, yTitleLH = yTitleSize * 1.2;
  const canvasTop = plotTop - padTop;
  const canvasBottom = Math.round(row.titleY[c] + xTitleLH / 2 + 2);
  const w = col.plotRight + padRight - col.canvasLeft;
  const h = canvasBottom - canvasTop;
  const yAxisW = col.plotLeft - col.canvasLeft;
  const xAxisH = canvasBottom - plotBottom;

  const canvas = makeCanvas(col.canvasLeft, canvasTop, w, h);

  let datasets, yMin, yMax, yTicks;
  if (dens) {
    const [grid, hort, nemo] = densityData[r];
    const line = (vals, fill) => ({
      data: grid.map((g, i) => ({ x: g, y: vals[i] })),
      borderColor: '#000', borderWidth: 1.3, backgroundColor: fill,
      fill: 'origin', pointRadius: 0, cubicInterpolationMode: 'monotone', clip: false
    });
    datasets = [line(nemo, RED_FILL), line(hort, BLUE_FILL)];
    [yMin, yMax] = densityLimits[r];
    yTicks = densityTicks[r];
  } else {
    const pts = (rows) => rows.map(p => ({ x: p[r], y: p[c] }));
    datasets = [
      { data: pts(nemoralis), backgroundColor: RED_PT, pointRadius: 2.7, pointBorderWidth: 0, clip: false },
      { data: pts(hortensis), backgroundColor: BLUE_PT, pointRadius: 2.7, pointBorderWidth: 0, clip: false }
    ];
    [yMin, yMax] = axisRanges[c];
    yTicks = axisTicks[c];
  }

  new Chart(canvas, {
    type: dens ? 'line' : 'scatter',
    data: { datasets },
    options: {
      responsive: false, animation: false, devicePixelRatio: 1,
      layout: { padding: { top: padTop, right: padRight, left: 0, bottom: 0 } },
      plugins: { legend: { display: false }, tooltip: { enabled: false } },
      scales: {
        x: {
          type: 'linear', min: axisRanges[r][0], max: axisRanges[r][1],
          afterBuildTicks: s => { s.ticks = axisTicks[r].map(v => ({ value: v })); },
          afterFit: s => { s.height = xAxisH; },
          border: { display: true, color: '#1a1a1a', width: 1.2 },
          grid: { display: true, drawOnChartArea: false, drawTicks: true, tickLength: dens ? 5 : 4, tickColor: '#333', tickWidth: 1 },
          ticks: {
            autoSkip: false, maxRotation: 0, padding: dens ? 0 : 2.5,
            color: dens ? '#000' : '#4d4d4d',
            font: { size: dens ? 16 : 11 },
            callback: v => String(v)
          },
          title: {
            display: true, text: variableNames[r], color: '#000',
            font: { family: '"DejaVu Sans", sans-serif', size: xTitleSize },
            padding: { top: 0, bottom: 2 }
          }
        },
        y: {
          type: 'linear', min: yMin, max: yMax,
          afterBuildTicks: s => { s.ticks = yTicks.map(v => ({ value: v })); },
          afterFit: s => { s.width = yAxisW; },
          border: { display: true, color: '#1a1a1a', width: 1.2 },
          grid: { display: true, drawOnChartArea: false, drawTicks: true, tickLength: dens ? 5 : 4, tickColor: '#333', tickWidth: 1 },
          ticks: {
            autoSkip: false, padding: dens ? 0 : 3,
            color: '#4d4d4d',
            font: { size: dens ? 1 : 11 },
            callback: v => dens ? '' : String(v)
          },
          title: {
            display: true, text: dens ? 'Density' : variableNames[c], color: '#000',
            font: { family: '"DejaVu Sans", sans-serif', size: yTitleSize },
            padding: { top: col.titleX[r] - col.canvasLeft - yTitleLH / 2, bottom: 0 }
          }
        }
      }
    }
  });
}

for (let r = 0; r < 3; r++) {
  for (let c = 0; c < 4; c++) buildPanel(r, c);
}

// Species key along the bottom
const keyItems = [
  { dotLeft: 398, dotTop: 829, color: '#00aeef', textLeft: 447 },
  { dotLeft: 756, dotTop: 828, color: '#ff0000', textLeft: 804 }
];
keyItems.forEach((k, i) => {
  const d = document.createElement('div');
  d.className = 'dot';
  d.style.left = k.dotLeft + 'px'; d.style.top = k.dotTop + 'px'; d.style.background = k.color;
  document.body.appendChild(d);
  const t = document.createElement('div');
  t.className = 'lbl';
  t.style.left = k.textLeft + 'px'; t.style.top = '832px';
  t.textContent = speciesNames[i];
  document.body.appendChild(t);
});
</script>
</body>
</html>
